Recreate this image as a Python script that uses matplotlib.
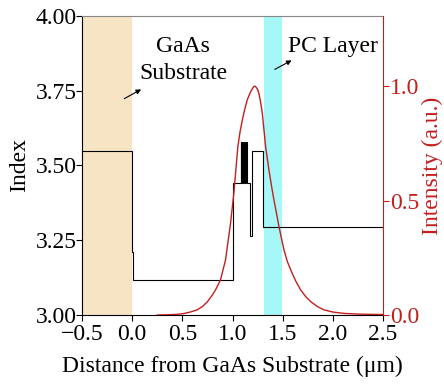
import matplotlib.pyplot as plt
import numpy as np

plt.rcParams['font.family'] = ['Liberation Serif', 'DejaVu Serif']

# refractive index profile: layer boundaries (um) and index of each layer
layer_edges = [-0.5, 0.0, 0.005, 1.0, 1.08, 1.089, 1.098, 1.107, 1.116, 1.125, 1.134,
               1.143, 1.17, 1.193, 1.307, 2.5]
layer_index = [3.55, 3.21, 3.117, 3.44, 3.58, 3.44, 3.58, 3.44, 3.58, 3.44, 3.58,
               3.44, 3.264, 3.55, 3.294]

# mode intensity profile
pos = [0.25, 0.35, 0.45, 0.51, 0.58, 0.65, 0.70, 0.75, 0.80, 0.83, 0.88, 0.93, 0.98,
       1.013, 1.053, 1.075, 1.097, 1.12, 1.147, 1.18, 1.20, 1.213, 1.222, 1.235, 1.25,
       1.263, 1.28, 1.297, 1.313, 1.33, 1.363, 1.39, 1.413, 1.44, 1.463, 1.49, 1.513,
       1.545, 1.58, 1.63, 1.68, 1.73, 1.78, 1.85, 1.913, 2.0, 2.11, 2.25, 2.35, 2.5]
intensity = [0.0, 0.001, 0.003, 0.006, 0.013, 0.023, 0.037, 0.058, 0.088, 0.109, 0.153,
             0.24, 0.40, 0.531, 0.735, 0.80, 0.85, 0.895, 0.94, 0.975, 0.99, 0.998, 1.0,
             0.995, 0.985, 0.968, 0.93, 0.88, 0.81, 0.735, 0.633, 0.56, 0.502, 0.44,
             0.386, 0.33, 0.284, 0.235, 0.197, 0.148, 0.109, 0.08, 0.058, 0.036, 0.022,
             0.013, 0.007, 0.004, 0.003, 0.002]

red = '#c41e1e'
fs = 17

fig = plt.figure(figsize=(4.44, 3.90), dpi=100)
ax = fig.add_axes([0.1847, 0.1923, 0.678, 0.7667])

ax.axvspan(-0.5, 0.0, color='#f6e4c4', lw=0, zorder=0)
ax.axvspan(1.31, 1.49, color='#a6f7f7', lw=0, zorder=0)

ax.stairs(layer_index, layer_edges, baseline=None, color='black', lw=0.8, zorder=2)

ax.set_xlim(-0.5, 2.5)
ax.set_ylim(3.0, 4.0)
ax.set_xticks(np.arange(-0.5, 2.51, 0.5))
ax.set_yticks(np.arange(3.0, 4.01, 0.25))
ax.xaxis.set_major_formatter(plt.FuncFormatter(lambda v, p: f'{v:.1f}'.replace('-', '\u2212')))
ax.yaxis.set_major_formatter(plt.FuncFormatter(lambda v, p: f'{v:.2f}'))
ax.tick_params(labelsize=fs, direction='out', length=4, width=0.8)
ax.tick_params(axis='x', pad=2.5)
ax.tick_params(axis='y', pad=0)
ax.set_xlabel('Distance from GaAs Substrate (\u03bcm)', fontsize=fs, labelpad=8)
ax.set_ylabel('Index', fontsize=fs, labelpad=4)
ax.spines['top'].set_color('#888888')
ax.spines['right'].set_visible(False)

ax.text(0.51, 3.853, 'GaAs\nSubstrate', fontsize=fs, ha='center', va='center',
        multialignment='center', linespacing=1.35)
ax.text(2.0, 3.898, 'PC Layer', fontsize=fs, ha='center', va='center')
ax.annotate('', xy=(0.113, 3.759), xytext=(-0.103, 3.719),
            arrowprops=dict(arrowstyle='-|>', color='black', lw=0.8, mutation_scale=7))
ax.annotate('', xy=(1.613, 3.856), xytext=(1.397, 3.817),
            arrowprops=dict(arrowstyle='-|>', color='black', lw=0.8, mutation_scale=7))

ax2 = ax.twinx()
ax2.plot(pos, intensity, color=red, lw=1.0)
ax2.set_ylim(0, 1.306)
ax2.set_yticks([0.0, 0.5, 1.0])
ax2.yaxis.set_major_formatter(plt.FuncFormatter(lambda v, p: f'{v:.1f}'))
ax2.tick_params(labelsize=fs, colors=red, direction='out', length=4, width=0.8, pad=1)
ax2.set_ylabel('Intensity (a.u.)', fontsize=fs, color=red, labelpad=2)
ax2.spines['right'].set_color(red)
ax2.spines['top'].set_visible(False)
ax2.spines['left'].set_visible(False)
ax2.spines['bottom'].set_visible(False)

fig.savefig('out.png', dpi=100)
